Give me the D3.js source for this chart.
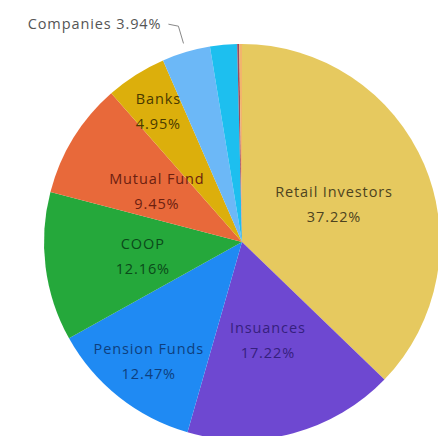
<!DOCTYPE html>
<html><head><meta charset="utf-8">
<script src="https://cdn.jsdelivr.net/npm/d3@7"></script>
<style>html,body{margin:0;padding:0;background:#fff;overflow:hidden}</style>
</head><body>
<script>
const categories = ["Retail Investors","Insuances","Pension Funds","COOP","Mutual Fund","Banks","Companies","Government","Foreign","Other"];
const values = [37.22,17.22,12.47,12.16,9.45,4.95,3.94,2.20,0.17,0.22];
const colors = ["#E6C95F","#6E48D1","#1F8AF3","#25A83B","#E8693A","#DCAF0C","#6CB8F7","#1DBFEF","#9C4A5C","#F2B46C"];
const textColors = ["#4d4320","#36207e","#0e3f7e","#0b4a1a","#6b2010","#4a3a00","#555555","#333","#333","#333"];

const W = 438, H = 436;
const cx = 242, cy = 242, R = 198;
const svg = d3.select("body").append("svg").attr("width", W).attr("height", H);
const g = svg.append("g").attr("transform", `translate(${cx},${cy})`);

const data = categories.map((c,i)=>({name:c, value:values[i], color:colors[i], tc:textColors[i]}));
const pie = d3.pie().value(d=>d.value).sort(null);
const arcs = pie(data);
const arc = d3.arc().innerRadius(0).outerRadius(R);

g.selectAll("path").data(arcs).join("path")
  .attr("d", arc).attr("fill", d=>d.data.color);

// inside labels; some pushed outward to avoid overlap
const pushed = {"Pension Funds":1.5, "Banks":1.56};
const font = "'Open Sans', 'Segoe UI', sans-serif";
const fs = 14.5, ls = 0.9;
arcs.forEach(a=>{
  if (a.data.value < 4.5) return;
  const f = pushed[a.data.name] || 1.0;
  const ang = (a.startAngle + a.endAngle)/2;
  const r = 100 * f;
  const x = r*Math.sin(ang), y = -r*Math.cos(ang);
  const t = g.append("text").attr("text-anchor","middle")
    .attr("font-family", font).attr("font-size", fs).attr("letter-spacing", ls)
    .attr("fill", a.data.tc);
  t.append("tspan").attr("x", x).attr("y", y - 6).text(a.data.name);
  t.append("tspan").attr("x", x).attr("y", y + 19).text(d3.format(".2f")(a.data.value) + "%");
});

// outside label for Companies
const comp = arcs[6];
const ma = (comp.startAngle + comp.endAngle)/2;
const p1 = [ (R+9)*Math.sin(ma), -(R+9)*Math.cos(ma) ];
const p2 = [ (R+27)*Math.sin(ma), -(R+27)*Math.cos(ma) ];
const p3 = [ p2[0]-10, p2[1]-2 ];
g.append("path").attr("d", d3.line()([p1,p2,p3]))
  .attr("fill","none").attr("stroke","#888").attr("stroke-width",1);
g.append("text").attr("x", p3[0]-7).attr("y", p3[1]+5)
  .attr("text-anchor","end").attr("font-family", font).attr("font-size", fs).attr("letter-spacing", ls)
  .attr("fill","#555").text(comp.data.name + " " + d3.format(".2f")(comp.data.value) + "%");
</script>
</body></html>
